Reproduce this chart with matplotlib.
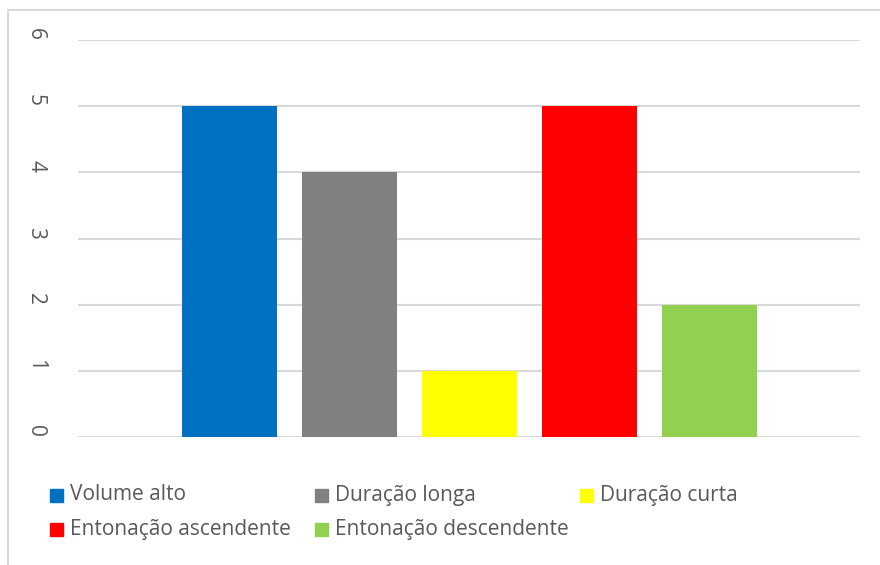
import matplotlib
matplotlib.use("Agg")
import matplotlib.pyplot as plt
from matplotlib.patches import Rectangle
from matplotlib.lines import Line2D
from matplotlib.transforms import ScaledTranslation

series = ["Volume alto", "Duração longa", "Duração curta",
          "Entonação ascendente", "Entonação descendente"]
values = [5, 4, 1, 5, 2]
colors = ["#0070C0", "#808080", "#FFFF00", "#FF0000", "#92D050"]
yticks = [0, 1, 2, 3, 4, 5, 6]

W, H = 880, 565
plt.rcParams['font.family'] = ['Open Sans', 'DejaVu Sans']
fig = plt.figure(figsize=(W / 100, H / 100), dpi=100)

def fx(px):
    return px / W

def fy(py):
    return 1 - py / H

# outer chart border (top and left visible)
fig.add_artist(Line2D([fx(8), fx(880)], [fy(10), fy(10)], color="#d9d9d9", lw=1.5))
fig.add_artist(Line2D([fx(8), fx(8)], [fy(10), fy(565)], color="#d9d9d9", lw=1.5))

ax = fig.add_axes([fx(78), fy(437), fx(860) - fx(78), fy(40) - fy(437)])
x = list(range(len(series)))
ax.bar(x, values, width=0.79, color=colors, zorder=2)
ax.set_xlim(-1.26, len(series) - 1 + 1.255)
ax.set_ylim(0, 6)
ax.set_yticks(yticks)
ax.set_yticklabels([str(t) for t in yticks], rotation=-90, va="center",
                   fontsize=15, color="#595959")
ax.tick_params(axis="y", length=0, pad=23)
off = ScaledTranslation(0, 6 / 100, fig.dpi_scale_trans)
for lab in ax.get_yticklabels():
    lab.set_transform(lab.get_transform() + off)
ax.set_xticks([])
ax.grid(axis="y", color="#d9d9d9", lw=1.5, zorder=0)
for s in ax.spines.values():
    s.set_visible(False)

# legend (3 columns, row-major order)
for i, (name, c) in enumerate(zip(series, colors)):
    col, row = i % 3, i // 3
    px = 50 + 265 * col
    py = 495 + 34 * row
    fig.add_artist(Rectangle((fx(px), fy(py + 6.5)), fx(13), 13 / H,
                             color=c, transform=fig.transFigure))
    fig.text(fx(px + 20), fy(py), name, fontsize=15, color="#595959",
             va="center", ha="left")

fig.savefig("out.png", dpi=100)
